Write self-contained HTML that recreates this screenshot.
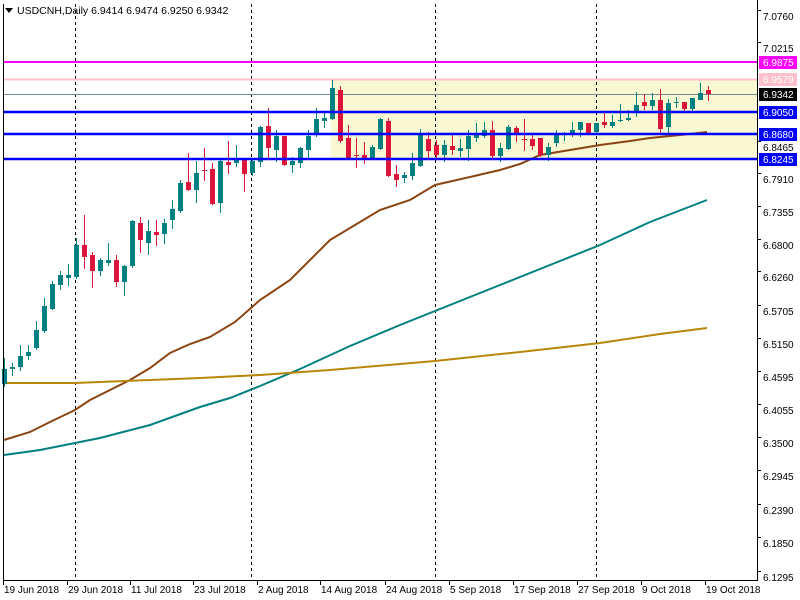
<!DOCTYPE html>
<html><head><meta charset="utf-8"><style>
body{margin:0;background:#fff;}
svg{display:block;font-family:"Liberation Sans",sans-serif;}
</style></head><body>
<svg id="s" width="800" height="600" xmlns="http://www.w3.org/2000/svg">
<rect width="800" height="600" fill="#fff"/>
<rect x="331" y="79" width="426" height="80" fill="#f8f8d2"/>
<g id="vl" stroke="#000" stroke-dasharray="3,3" stroke-width="1">
<line x1="75.5" y1="4" x2="75.5" y2="580"/><line x1="251.5" y1="4" x2="251.5" y2="580"/>
<line x1="435.5" y1="4" x2="435.5" y2="580"/><line x1="596.5" y1="4" x2="596.5" y2="580"/>
</g>
<line x1="4" y1="62" x2="757" y2="62" stroke="#ff00ff" stroke-width="2"/>
<line x1="4" y1="79.5" x2="757" y2="79.5" stroke="#ffc0cb" stroke-width="2"/>
<line x1="4" y1="94.5" x2="757" y2="94.5" stroke="#778899" stroke-width="1"/>
<g id="ma" fill="none" stroke-width="2"></g>
<g id="c"></g>
<line x1="4" y1="112" x2="757" y2="112" stroke="#0000ff" stroke-width="2.5"/>
<line x1="4" y1="134" x2="757" y2="134" stroke="#0000ff" stroke-width="2.5"/>
<line x1="4" y1="159" x2="757" y2="159" stroke="#0000ff" stroke-width="2.5"/>
<line x1="3.5" y1="4" x2="3.5" y2="580" stroke="#000"/>
<line x1="757.5" y1="0" x2="757.5" y2="581" stroke="#000"/>
<line x1="3" y1="580.5" x2="758" y2="580.5" stroke="#000"/>
<g id="ax" font-size="10" fill="#000"></g>
<polygon points="5,8 13,8 9,13" fill="#000"/>
<text x="17" y="14" font-size="10.5">USDCNH,Daily  6.9414 6.9474 6.9250 6.9342</text>
</svg>
<script>
var NS="http://www.w3.org/2000/svg";
function el(p,t,a,txt){var e=document.createElementNS(NS,t);for(var k in a)e.setAttribute(k,a[k]);if(txt!==undefined)e.textContent=txt;p.appendChild(e);return e;}
var d=[[384,369,358,387],[369,367,363,376],[367,356,345,371],[356,352,345,360],[348,330,321,350],[331,306,298,333],[309,284,281,310],[285,275,271,290],[278,275,264,286],[277,245,238,279],
[245,257,215,269],[255,271,252,288],[271,260,258,276],[263,260,243,266],[260,282,255,287],[282,266,265,296],[266,221,220,268],[223,240,217,253],[243,231,220,255],[232,235,220,246],
[234,223,219,244],[220,209,200,229],[211,183,180,213],[182,190,153,191],[190,173,161,203],[170,171,148,181],[169,204,163,205],[203,161,158,213],[162,165,141,174],[163,160,145,167],
[160,174,160,192],[173,161,160,176],[162,127,126,167],[126,148,108,160],[150,136,130,162],[136,165,136,166],[165,161,157,173],[163,148,147,168],[150,136,130,158],[135,119,108,137],
[121,118,111,128],[119,88,80,120],[90,141,86,143],[138,159,125,160],[155,156,138,168],[155,159,142,164],[159,147,145,160],[149,119,118,150],[121,176,118,177],[174,180,165,187],
[178,175,172,183],[176,163,153,180],[166,134,129,167],[139,151,132,158],[145,155,140,159],[155,145,140,162],[146,150,135,155],[151,148,139,157],[149,136,130,161],[138,135,123,142],
[136,130,122,138],[130,156,121,159],[156,148,143,162],[149,127,125,150],[128,134,126,142],[139,140,119,151],[139,146,133,150],[138,155,138,157],[155,147,143,161],[143,133,130,147],
[134,133,132,141],[134,130,122,137],[130,122,122,137],[123,133,123,135],[132,123,123,133],[122,125,112,128],[126,122,115,128],[121,120,104,122],[120,118,110,121],[112,105,92,117],
[102,106,94,110],[106,100,93,110],[100,129,89,134],[127,103,99,133],[103,102,97,108],[102,109,102,113],[109,98,98,112],[100,93,83,100],[90,94,86,101]];
var g=document.getElementById('c');
d.forEach(function(c,i){var x=Math.round(3.5+8*i);var up=c[1]<c[0];var col=up?'#008080':'#dc143c';
el(g,'rect',{x:x,y:c[2],width:1,height:Math.max(1,c[3]-c[2]),fill:col});
var t=Math.min(c[0],c[1]),h=Math.max(1,Math.abs(c[0]-c[1]));
el(g,'rect',{x:x-2,y:t,width:5,height:h,fill:col});});
var ma=document.getElementById('ma');
function pl(pts,col){el(ma,'polyline',{points:pts.map(function(p){return p.join(',')}).join(' '),stroke:col});}
pl([[4,440],[30,432],[50,422],[75,410],[90,400],[110,390],[130,380],[150,368],[170,353],[190,344],[210,337],[235,322],[260,300],[290,280],[330,240],[355,225],[380,210],[410,200],[435,185],[470,177],[500,170],[520,164],[540,155],[570,150],[600,145],[630,141],[650,138],[680,135],[707,132]],'#8b4513');
pl([[4,455],[40,450],[75,443],[100,438],[150,425],[200,407],[230,398],[260,386],[300,369],[350,346],[400,325],[450,305],[500,285],[550,265],[600,245],[650,222],[707,200]],'#008080');
pl([[4,383],[75,383],[150,380],[200,378],[260,375],[330,370],[435,361],[520,352],[600,343],[660,334],[707,328]],'#b8860b');
var ax=document.getElementById('ax');
var ticks=[["7.0760",16],["7.0215",48],["6.8465",147],["6.7910",179],["6.7355",212],["6.6800",245],["6.6260",277],["6.5705",311],["6.5150",344],["6.4595",377],["6.4055",410],["6.3500",443],["6.2945",476],["6.2390",510],["6.1850",543],["6.1295",577]];
ticks.forEach(function(t){el(ax,'rect',{x:757,y:t[1]-6,width:4,height:1,fill:'#000'});el(ax,'text',{x:763,y:t[1]+4},t[0]);});
var boxes=[["6.9875",62,'#ff00ff','#fff'],["6.9579",79,'#ffc0cb','#fff'],["6.9342",94,'#000','#fff'],["6.9050",112,'#0000ff','#fff'],["6.8680",134,'#0000ff','#fff'],["6.8245",159,'#0000ff','#fff']];
boxes.forEach(function(b){el(ax,'rect',{x:759,y:b[1]-6,width:38,height:13,fill:b[2]});el(ax,'text',{x:763,y:b[1]+4,fill:b[3]},b[0]);});
var dates=[["19 Jun 2018",3],["29 Jun 2018",67],["11 Jul 2018",130],["23 Jul 2018",193],["2 Aug 2018",257],["14 Aug 2018",320],["24 Aug 2018",385],["5 Sep 2018",449],["17 Sep 2018",513],["27 Sep 2018",577],["9 Oct 2018",641],["19 Oct 2018",705]];
dates.forEach(function(t){el(ax,'rect',{x:t[1],y:581,width:1,height:4,fill:'#000'});el(ax,'text',{x:t[1]+1,y:593},t[0]);});
</script>
</body></html>
